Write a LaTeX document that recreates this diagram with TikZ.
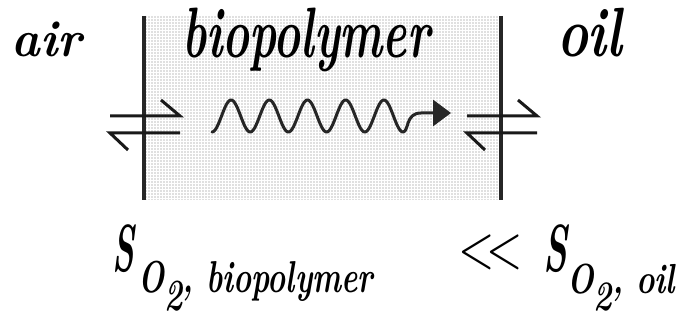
\documentclass[tikz,border=0pt]{standalone}
\usepackage{graphicx}
\usetikzlibrary{arrows.meta}
\tikzset{
  lbl/.style={inner sep=0pt, outer sep=0pt, anchor=north west, font=\bfseries\itshape},
  eqarrow/.style={line width=3pt, black!90, line cap=butt, line join=miter},
  wall/.style={line width=4pt, black!85},
  wave/.style={line width=3pt, black!85, line join=round, line cap=round},
}
\newcommand\fitbox[3]{\resizebox*{#1pt}{#2pt}{#3}}
\begin{document}
\begin{tikzpicture}[x=1pt,y=-1pt]
\useasboundingbox (0,0) rectangle (681,320);
% biopolymer slab
\fill[black!12] (144,16) rectangle (501,200);
\begin{scope}
\clip (144,16) rectangle (501,200);
\draw[white, line width=0.7pt, step=3pt] (144,16) grid (501,200);
\end{scope}
\draw[wall] (144,16) coordinate (wl1) -- (144,200) coordinate (wl2);
\draw[wall] (501,16) coordinate (wr1) -- (501,200) coordinate (wr2);
% labels
\node[lbl] (air) at (12,22) {\fitbox{70}{35}{air}};
\node[lbl] (bio) at (182,8) {\fitbox{248}{64}{biopolymer}};
\node[lbl] (oil) at (557,8) {\fitbox{65}{49}{oil}};
\node[lbl] (S1) at (112,225) {\fitbox{22}{48}{S}};
\node[lbl] (sub1) at (138,261) {\fitbox{235}{50}{O\raisebox{-0.4em}{2}, biopolymer}};
\node[lbl] (ll) at (458,235) {\fitbox{65}{35}{$<\!<$}};
\node[lbl] (S2) at (543,225) {\fitbox{24}{48}{S}};
\node[lbl] (sub2) at (567,264) {\fitbox{108}{47}{O\raisebox{-0.4em}{2}, oil}};
% equilibrium arrows, left
\coordinate (la1) at (110,116); \coordinate (la2) at (180,116); \coordinate (la3) at (161,100);
\coordinate (lb1) at (180,133); \coordinate (lb2) at (110,133); \coordinate (lb3) at (128,150);
\draw[eqarrow] (la1) -- (la2) -- (la3);
\draw[eqarrow] (lb1) -- (lb2) -- (lb3);
% equilibrium arrows, right
\coordinate (ra1) at (467,116); \coordinate (ra2) at (537,116); \coordinate (ra3) at (518,100);
\coordinate (rb1) at (537,133); \coordinate (rb2) at (467,133); \coordinate (rb3) at (485,150);
\draw[eqarrow] (ra1) -- (ra2) -- (ra3);
\draw[eqarrow] (rb1) -- (rb2) -- (rb3);
% wave
\coordinate (wend) at (451,113);
\draw[wave, -{Triangle[length=18pt,width=26pt]}]
  plot[domain=0:5, samples=160, smooth] ({212+38.2*\x}, {116+16*cos(360*\x)})
  .. controls (409,132) and (405,113) .. (421,113) -- (wend);
\end{tikzpicture}
\end{document}
